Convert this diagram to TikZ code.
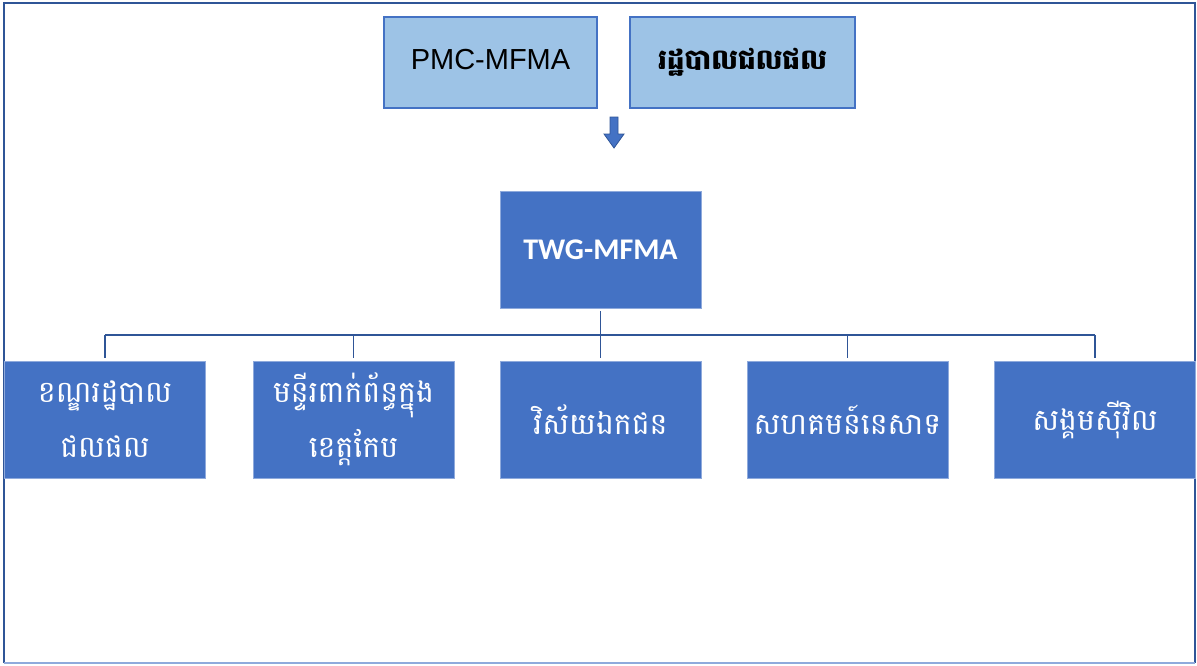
\documentclass[tikz,border=0pt]{standalone}
\usepackage{fontspec}
\setmainfont{Liberation Sans}
\newfontfamily\khmerfont[Script=Khmer]{Battambang}
\newfontfamily\calibrifont{Carlito}
\definecolor{frameblue}{HTML}{2F5597}
\definecolor{midblue}{HTML}{4472C4}
\definecolor{lightblue}{HTML}{9DC3E6}
\definecolor{edgeblue}{HTML}{8FAADC}
\tikzset{
  topbox/.style={draw=midblue, line width=1.5pt, fill=lightblue, minimum height=91pt, inner sep=0pt},
  mainbox/.style={draw=edgeblue, line width=0.6pt, fill=midblue, minimum width=201pt, minimum height=117pt, inner sep=0pt, text=white, align=center},
  khmertext/.style={font=\khmerfont\fontsize{30}{55}\selectfont},
  link/.style={draw=frameblue, line width=1.8pt}
}
\begin{document}
\begin{tikzpicture}[x=1pt, y=-1pt]
		
		\useasboundingbox (0,0) rectangle (1197,665);
		
		% Khung ngoài
		\draw[frameblue, line width=2.6pt] (4,663) -- (4,3) -- (1195,3) -- (1195,663);
		\draw[edgeblue, line width=2pt] (4,663) -- (1195,663);
		
		% Hai hộp trên cùng
		\node[topbox, minimum width=213pt] (pmc) at (490.5,62.5) {\raisebox{6pt}{\fontsize{29}{34}\selectfont PMC-MFMA}};
		\node[topbox, minimum width=225pt] (fia) at (742.5,62.5) {\raisebox{4pt}{\khmerfont\bfseries\fontsize{28}{34}\selectfont រដ្ឋបាលជលផល}};
		
		% Mũi tên xuống
		\filldraw[fill=midblue, draw=frameblue, line width=0.8pt]
			(610,117) -- (618,117) -- (618,134) -- (624,134) -- (614,148)
			-- (604,134) -- (610,134) -- cycle;
		
		% Hộp TWG
		\node[mainbox, minimum width=201pt] (twg) at (600.5,249.5) {\calibrifont\bfseries\fontsize{30}{36}\selectfont TWG-MFMA};
		
		% Năm hộp dưới
		\node[mainbox, khmertext] (b1) at (105,419.5) {ខណ្ឌរដ្ឋបាល\\ជលផល};
		\node[mainbox, khmertext] (b2) at (353.5,419.5) {មន្ទីរពាក់ព័ន្ធក្នុង\\ខេត្តកែប};
		\node[mainbox, khmertext] (b3) at (600.5,419.5) {វិស័យឯកជន};
		\node[mainbox, khmertext] (b4) at (847.5,419.5) {សហគមន៍នេសាទ};
		\node[mainbox, khmertext] (b5) at (1095,419.5) {សង្គមស៊ីវិល};
		
		% Đường nối
		\coordinate (bus) at (600,335);
		\draw[link] (b1.north |- bus) -- (b5.north |- bus);
		\draw[link] ([yshift=-3pt]twg.south) -- ([yshift=3pt]b3.north);
		\draw[link] (b1.north |- bus) -- ([yshift=3pt]b1.north);
		\draw[link] (b2.north |- bus) -- ([yshift=3pt]b2.north);
		\draw[link] (b4.north |- bus) -- ([yshift=3pt]b4.north);
		\draw[link] (b5.north |- bus) -- ([yshift=3pt]b5.north);
		
\end{tikzpicture}
\end{document}
